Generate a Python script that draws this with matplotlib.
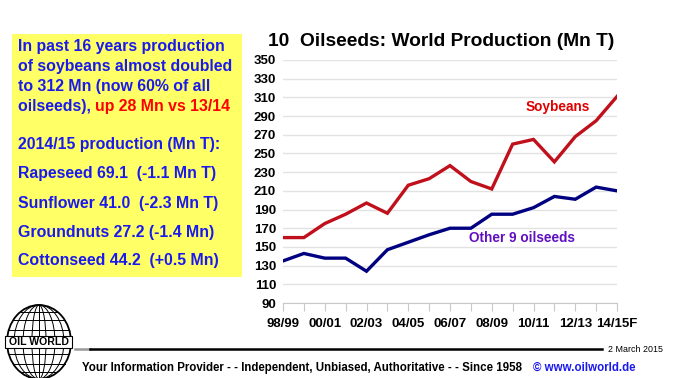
import matplotlib
matplotlib.use("Agg")
from matplotlib import pyplot as plt
from matplotlib.patches import Ellipse, Rectangle

plt.rcParams['font.family'] = ['Liberation Sans', 'DejaVu Sans']

seasons = ['98/99', '99/00', '00/01', '01/02', '02/03', '03/04', '04/05', '05/06', '06/07',
           '07/08', '08/09', '09/10', '10/11', '11/12', '12/13', '13/14', '14/15F']
soybeans = [160, 160, 175, 185, 197, 186, 216, 223, 237, 220, 212, 260, 265, 241, 268, 285, 311]
others = [135, 143, 138, 138, 124, 147, 155, 163, 170, 170, 185, 185, 192, 204, 201, 214, 210]
yticks = list(range(90, 351, 20))

W, H = 673, 378
fig = plt.figure(figsize=(W / 100, H / 100), dpi=100)
fig.patch.set_facecolor('white')

def fx(px):
    return px / W

def fy(py):
    return 1 - py / H

# main chart
ax = fig.add_axes([fx(283), fy(303), fx(617) - fx(283), fy(60) - fy(303)])
x = list(range(len(seasons)))
ax.plot(x, soybeans, color='#c0101c', lw=2.4, solid_joinstyle='miter')
ax.plot(x, others, color='#000080', lw=2.4, solid_joinstyle='miter')
ax.set_xlim(0, len(seasons) - 1)
ax.set_ylim(90, 350)
ax.set_yticks(yticks)
ax.set_yticklabels([str(v) for v in yticks], fontsize=9.5, fontweight='bold')
ax.set_xticks(x)
ax.set_xticklabels([s if i % 2 == 0 else '' for i, s in enumerate(seasons)],
                   fontsize=9.5, fontweight='bold')
ax.tick_params(axis='y', length=0, pad=5)
ax.tick_params(axis='x', direction='out', length=6, color='#c8c8c8', pad=5)
ax.grid(axis='y', color='#e2e2e2', lw=1)
ax.set_axisbelow(True)
for s in ['top', 'right', 'left']:
    ax.spines[s].set_visible(False)
ax.spines['bottom'].set_color('#c8c8c8')
ax.text(13.17, 299.5, 'Soybeans', color='#e00000', fontsize=9.8, fontweight='bold',
        ha='center', va='center')
ax.text(11.45, 159.5, 'Other 9 oilseeds', color='#6010c0', fontsize=9.8, fontweight='bold',
        ha='center', va='center')

fig.text(fx(268), fy(42), '10  Oilseeds: World Production (Mn T)', fontsize=13.8,
         fontweight='bold', ha='left', va='center')

# yellow box
fig.patches.append(Rectangle((fx(12), fy(277)), fx(242) - fx(12), fy(34) - fy(277),
                             transform=fig.transFigure, facecolor='#ffff66', edgecolor='none'))
blue = '#1a1aee'
bsize = 11.4
lines = ['In past 16 years production', 'of soybeans almost doubled',
         'to 312 Mn (now 60% of all']
for i, t in enumerate(lines):
    fig.text(fx(18), fy(47 + 19.5 * i), t, color=blue, fontsize=bsize, fontweight='bold',
             va='center')
t1 = fig.text(fx(18), fy(106), 'oilseeds), ', color=blue, fontsize=bsize, fontweight='bold',
              va='center')
fig.canvas.draw()
bb = t1.get_window_extent(renderer=fig.canvas.get_renderer())
fig.text(bb.x1 / W, fy(106), 'up 28 Mn vs 13/14', color='#ff0000', fontsize=bsize,
         fontweight='bold', va='center')
items = ['2014/15 production (Mn T):', 'Rapeseed 69.1  (-1.1 Mn T)',
         'Sunflower 41.0  (-2.3 Mn T)', 'Groundnuts 27.2 (-1.4 Mn)',
         'Cottonseed 44.2  (+0.5 Mn)']
for i, t in enumerate(items):
    fig.text(fx(18), fy(145 + 29 * i), t, color=blue, fontsize=bsize, fontweight='bold',
             va='center')

# footer
fig.add_artist(plt.Line2D([fx(75), fx(90)], [fy(349), fy(349)], color='#999999', lw=1.8,
                          transform=fig.transFigure))
fig.add_artist(plt.Line2D([fx(90), fx(602)], [fy(349), fy(349)], color='black', lw=1.8,
                          transform=fig.transFigure))
fig.text(fx(608), fy(349), '2 March 2015', fontsize=6.4, va='center')
f1 = fig.text(fx(82), fy(368), 'Your Information Provider - - Independent, Unbiased, '
              'Authoritative - - Since 1958', fontsize=8.3, fontweight='bold', va='center')
fig.canvas.draw()
bb = f1.get_window_extent(renderer=fig.canvas.get_renderer())
fig.text(bb.x1 / W + fx(11), fy(368), '\u00a9 www.oilworld.de', color='#1a1aee',
         fontsize=8.3, fontweight='bold', va='center')

# logo globe
lax = fig.add_axes([0, 0, fx(80), 1 - fy(78)])
lax.set_xlim(0, 80)
lax.set_ylim(0, 78)
lax.axis('off')
cx, cy, rw, rh = 39, 36, 32, 37
lax.add_patch(Ellipse((cx, cy), 2 * rw, 2 * rh, fill=False, ec='black', lw=1.3))
for f in [0.22, 0.5, 0.78]:
    lax.add_patch(Ellipse((cx, cy), 2 * rw * f, 2 * rh, fill=False, ec='black', lw=0.7))
lax.plot([cx, cx], [cy - rh, cy + rh], color='black', lw=0.7)
for f in [-0.82, -0.6, -0.33, 0.33, 0.6, 0.82]:
    yy = cy + f * rh
    half = rw * (1 - f * f) ** 0.5
    lax.plot([cx - half, cx + half], [yy, yy], color='black', lw=0.7)
lax.add_patch(Rectangle((5, cy - 6), 67, 12, facecolor='white', edgecolor='black', lw=0.8,
                        zorder=3))
lax.text(cx, cy, 'OIL WORLD', fontsize=7.6, fontweight='bold', ha='center', va='center',
         zorder=4)

fig.savefig('out.png', dpi=100)
